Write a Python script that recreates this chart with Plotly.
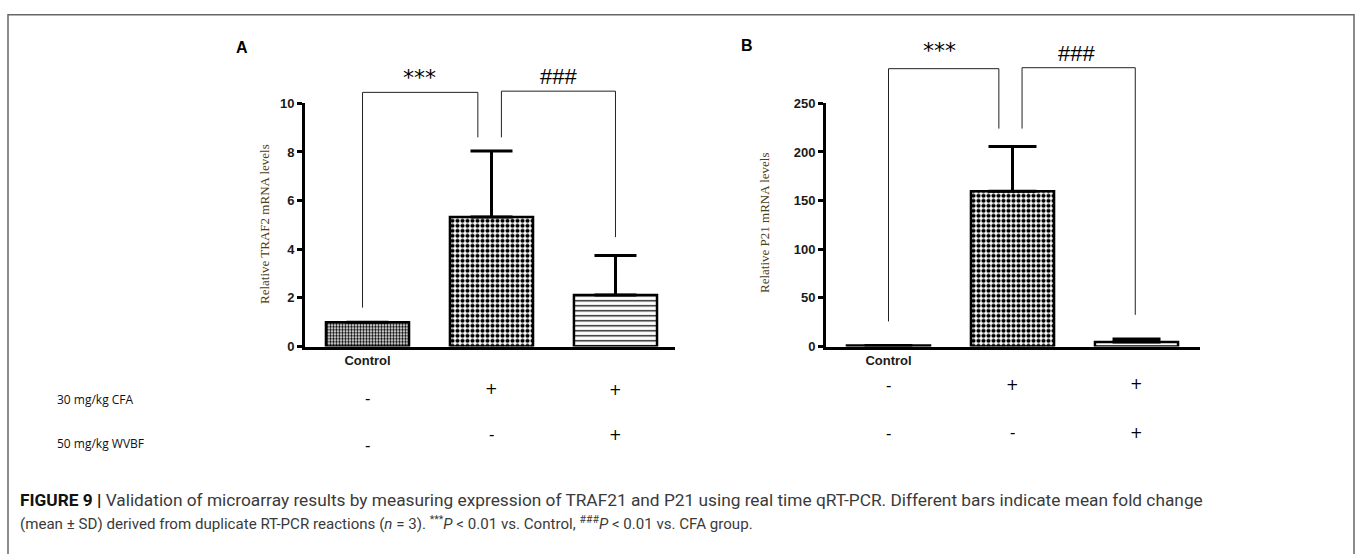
import plotly.graph_objects as go

# ---------------- data ----------------
groups = ["Control", "CFA", "CFA + WVBF"]
traf2_mean = [1.0, 5.33, 2.12]
traf2_sd = [0.0, 2.71, 1.62]
p21_mean = [1.0, 159.5, 4.6]
p21_sd = [0.0, 46.0, 3.2]

cfa_row = ["-", "+", "+"]
wvbf_row = ["-", "-", "+"]
row_labels = ["30 mg/kg CFA", "50 mg/kg WVBF"]

traf2_ticks = [0, 2, 4, 6, 8, 10]
p21_ticks = [0, 50, 100, 150, 200, 250]

# significance brackets: (x_left, x_right, y_left_bottom, y_right_bottom, y_top, label, label_x, label_y)
traf2_brackets = [
    (-0.04, 0.89, 1.6, 8.6, 10.45, "***", 0.42, 11.05),
    (1.08, 2.0, 8.6, 4.5, 10.5, "###", 1.54, 11.1),
]
p21_brackets = [
    (0.0, 0.89, 25.8, 224.0, 285.6, "***", 0.415, 304.0),
    (1.077, 1.99, 224.0, 32.6, 286.6, "###", 1.52, 301.0),
]

W, H = 1360, 554


def px_x(p):
    return p / W


def px_y(p):
    return 1 - p / H


fig = go.Figure()

bar_common = dict(
    width=0.67,
    marker_line=dict(color="black", width=2.5),
    showlegend=False,
    hoverinfo="skip",
)

fig.add_trace(go.Bar(
    x=[0, 1, 2], y=traf2_mean, xaxis="x", yaxis="y",
    error_y=dict(type="data", symmetric=False, array=traf2_sd,
                 arrayminus=[0, 0, 0], color="black", thickness=3, width=21),
    marker=dict(color="white", pattern=dict(
        shape=[".", ".", "-"], size=[3, 5, 5], solidity=[0.5, 0.55, 0.25],
        fgcolor="black", bgcolor="white", fillmode="replace")),
    **bar_common,
))

fig.add_trace(go.Bar(
    x=[0, 1, 2], y=p21_mean, xaxis="x2", yaxis="y2",
    error_y=dict(type="data", symmetric=False, array=p21_sd,
                 arrayminus=[0, 0, 0], color="black", thickness=3, width=24),
    marker=dict(color="white", pattern=dict(
        shape=[".", ".", ""], size=[3, 5, 5], solidity=[0.5, 0.55, 0.25],
        fgcolor="black", bgcolor="white", fillmode="replace")),
    **bar_common,
))

ydom = [px_y(349), px_y(99)]
tickfont = dict(family="Liberation Sans, Arial, sans-serif", size=13, color="#1a1a1a")

xaxis_common = dict(
    showline=True, linecolor="black", linewidth=3, showgrid=False, zeroline=False,
    tickmode="array", tickvals=[0], ticktext=["<b>Control</b>"], ticks="",
    tickfont=dict(family="Liberation Sans, Arial, sans-serif", size=13, color="#1a1a1a"),
    fixedrange=True,
)
yaxis_common = dict(
    showline=True, linecolor="black", linewidth=3, showgrid=False, zeroline=False,
    ticks="outside", ticklen=5, tickwidth=2.5, tickcolor="black",
    tickfont=tickfont, domain=ydom, fixedrange=True,
)

fig.update_layout(
    width=W, height=H,
    margin=dict(l=0, r=0, t=0, b=0),
    paper_bgcolor="white", plot_bgcolor="rgba(0,0,0,0)",
    xaxis=dict(domain=[px_x(305), px_x(675)], range=[-0.504, 2.48], anchor="y", **xaxis_common),
    yaxis=dict(range=[0, 10], anchor="x", tickvals=traf2_ticks,
               ticktext=[f"<b>{t}</b>" for t in traf2_ticks], **yaxis_common),
    xaxis2=dict(domain=[px_x(826), px_x(1200)], range=[-0.504, 2.512], anchor="y2", **xaxis_common),
    yaxis2=dict(range=[0, 250], anchor="x2", tickvals=p21_ticks,
                ticktext=[f"<b>{t}</b>" for t in p21_ticks], **yaxis_common),
    bargap=0.33,
)

shapes = []
annotations = []

# brackets and significance labels
for xr, yr, ymax, brackets in (("x", "y domain", 10.0, traf2_brackets),
                                ("x2", "y2 domain", 250.0, p21_brackets)):
    for xl, xrt, ylb, yrb, ytop, lab, lx, ly in brackets:
        path = (f"M {xl} {ylb / ymax} L {xl} {ytop / ymax} "
                f"L {xrt} {ytop / ymax} L {xrt} {yrb / ymax}")
        shapes.append(dict(type="path", xref=xr, yref=yr, path=path,
                           line=dict(color="#222222", width=1)))
        fam = "DejaVu Sans, sans-serif" if lab == "***" else "Liberation Sans, Arial, sans-serif"
        annotations.append(dict(xref=xr, yref=yr, x=lx, y=ly / ymax, text=lab,
                                showarrow=False, xanchor="center", yanchor="middle",
                                font=dict(family=fam, size=22, color="black")))

# treatment rows (+ / -)
for xr, y1, y2 in (("x", [403, 393, 394], [451, 440, 440]),
                   ("x2", [390, 389, 388], [439, 438, 438])):
    for i in range(3):
        annotations.append(dict(xref=xr, yref="paper", x=i, y=px_y(y1[i]), text=cfa_row[i],
                                showarrow=False, xanchor="center", yanchor="middle",
                                font=dict(family="DejaVu Sans, sans-serif", size=15, color="black")))
        annotations.append(dict(xref=xr, yref="paper", x=i, y=px_y(y2[i]), text=wvbf_row[i],
                                showarrow=False, xanchor="center", yanchor="middle",
                                font=dict(family="DejaVu Sans, sans-serif", size=15, color="black")))

for lab, yp in zip(row_labels, [403, 449]):
    annotations.append(dict(xref="paper", yref="paper", x=px_x(55), y=px_y(yp), text=lab,
                            showarrow=False, xanchor="left", yanchor="middle",
                            font=dict(family="Open Sans, Noto Sans, sans-serif", size=12, color="#111111")))

# panel letters
annotations.append(dict(xref="paper", yref="paper", x=px_x(242), y=px_y(42), text="<b>A</b>",
                        showarrow=False, xanchor="center", yanchor="middle",
                        font=dict(family="Liberation Sans, Arial, sans-serif", size=16, color="black")))
annotations.append(dict(xref="paper", yref="paper", x=px_x(747), y=px_y(40), text="<b>B</b>",
                        showarrow=False, xanchor="center", yanchor="middle",
                        font=dict(family="Liberation Sans, Arial, sans-serif", size=16, color="black")))

# y-axis titles
ytitle_font = dict(family="Liberation Serif, Times New Roman, serif", size=13, color="#4a4020")
annotations.append(dict(xref="paper", yref="paper", x=px_x(265), y=px_y(223),
                        text="Relative TRAF2 mRNA levels", textangle=-90, showarrow=False,
                        xanchor="center", yanchor="middle", font=ytitle_font))
annotations.append(dict(xref="paper", yref="paper", x=px_x(765), y=px_y(222),
                        text="Relative P21 mRNA levels", textangle=-90, showarrow=False,
                        xanchor="center", yanchor="middle", font=ytitle_font))

# caption
cap_family = "Liberation Sans Narrow, Arial Narrow, Roboto, sans-serif"
annotations.append(dict(
    xref="paper", yref="paper", x=px_x(18), y=px_y(507), showarrow=False,
    xanchor="left", yanchor="middle",
    font=dict(family=cap_family, size=17.3, color="#3a3a3a"),
    text=("<b><span style='color:#111'>FIGURE 9 |</span></b> Validation of microarray results by measuring "
          "expression of TRAF21 and P21 using real time qRT-PCR. Different bars indicate mean fold change")))
annotations.append(dict(
    xref="paper", yref="paper", x=px_x(18), y=px_y(530), showarrow=False,
    xanchor="left", yanchor="middle",
    font=dict(family=cap_family, size=15.1, color="#3a3a3a"),
    text=("(mean ± SD) derived from duplicate RT-PCR reactions (<i>n</i> = 3). "
          "<sup>***</sup><i>P</i> &lt; 0.01 vs. Control, <sup>###</sup><i>P</i> &lt; 0.01 vs. CFA group.")))

# outer frame
shapes.append(dict(type="rect", xref="paper", yref="paper",
                   x0=px_x(8), x1=px_x(1354), y0=-0.05, y1=px_y(8),
                   line=dict(color="#666666", width=1.5), fillcolor="rgba(0,0,0,0)", layer="below"))

fig.update_layout(shapes=shapes, annotations=annotations)

fig.write_html(
    "out.html",
    config={"displayModeBar": False},
    post_script="document.body.style.margin='0px';document.body.style.overflow='hidden';",
)
